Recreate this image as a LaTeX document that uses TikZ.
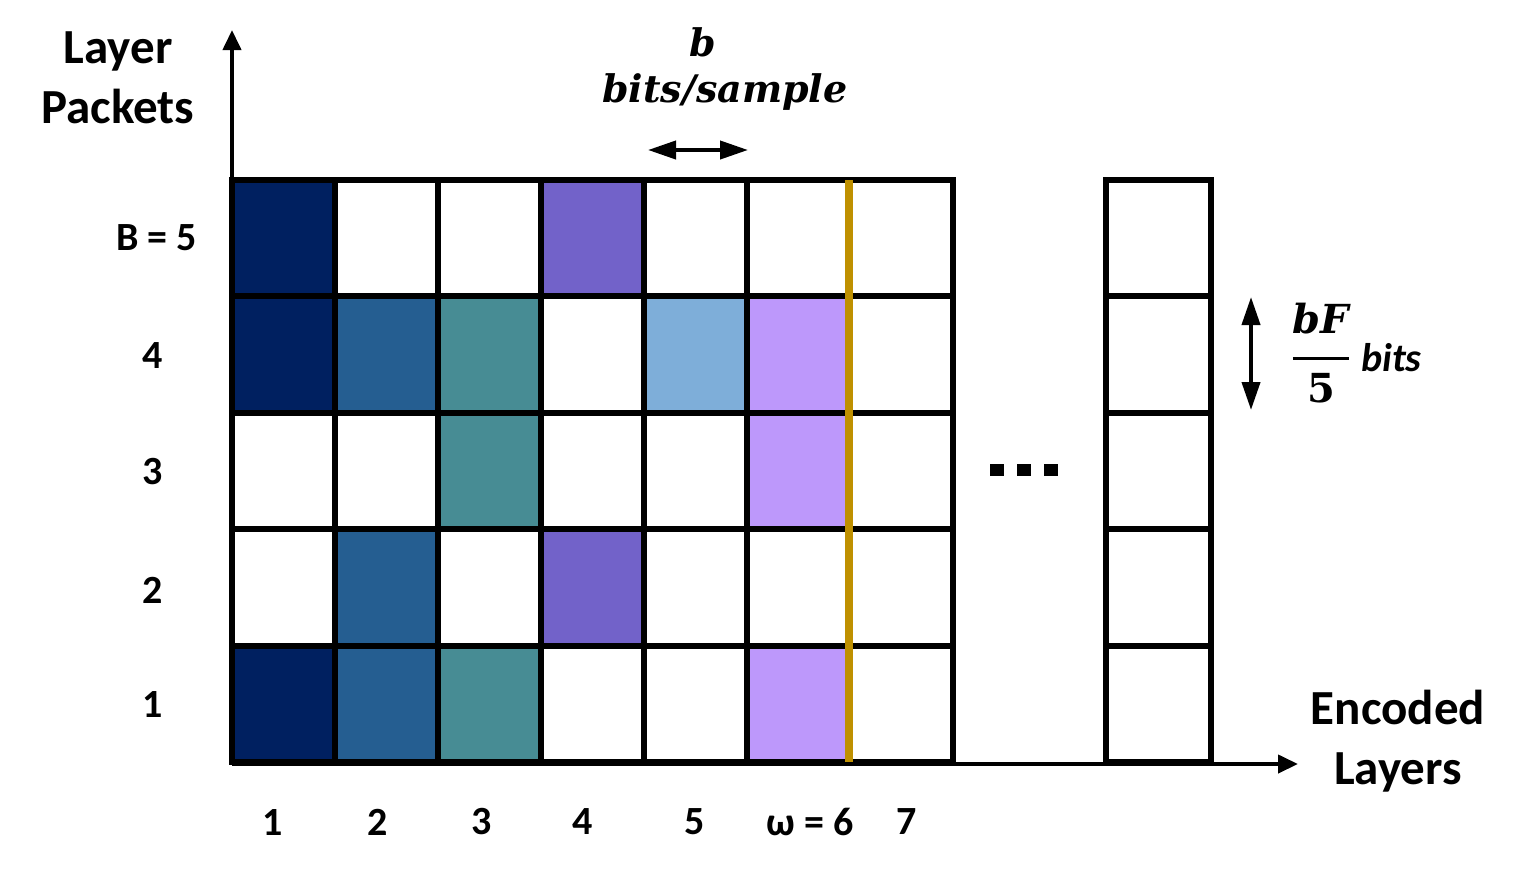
\documentclass[tikz,border=0pt]{standalone}
\usepackage{amsmath}
\usepackage{fontspec}
\setmainfont{Carlito}
\newfontfamily\mserif{DejaVu Serif}
\usetikzlibrary{arrows.meta}
\definecolor{navy}{HTML}{002060}
\definecolor{steel}{HTML}{255E91}
\definecolor{teal}{HTML}{478C94}
\definecolor{violet}{HTML}{7262C9}
\definecolor{sky}{HTML}{7EAED9}
\definecolor{lilac}{HTML}{BD98FB}
\definecolor{gold}{HTML}{BF9000}
\begin{document}
\begin{tikzpicture}[x=0.5pt,y=-0.5pt,
    grid/.style={line width=3pt,line cap=rect},
    axis/.style={line width=2pt,-{Triangle[length=10pt,width=9pt]}},
    dim/.style={line width=2pt,{Triangle[length=14pt,width=9pt]}-{Triangle[length=14pt,width=9pt]}},
    lbl/.style={font=\bfseries\fontsize{20}{24}\selectfont},
    ttl/.style={font=\bfseries\fontsize{24.5}{30}\selectfont,align=center},
    mth/.style={font=\mserif\bfseries\itshape\fontsize{19}{24}\selectfont}]
\useasboundingbox (0,0) rectangle (1518,873);
% filled packets
\foreach \c/\r/\col in {1/5/navy,1/4/navy,1/1/navy,2/4/steel,2/2/steel,2/1/steel,
    3/4/teal,3/3/teal,3/1/teal,4/5/violet,4/2/violet,5/4/sky,6/4/lilac,6/3/lilac,6/1/lilac}
  \fill[\col] ({232+103*(\c-1)},{762-116.4*\r}) rectangle ++(103,116.4);
% grid of layers
\foreach \i in {0,...,7}
  \draw[grid] ({232+103*\i},180) -- ({232+103*\i},762);
\foreach \j in {0,...,5}
  \draw[grid] (232,{180+116.4*\j}) -- (953,{180+116.4*\j});
\foreach \j in {0,...,4}
  \draw[grid] (1106,{180+116.4*\j}) rectangle ++(105,116.4);
\draw[line width=4pt,gold] (849,180) -- (849,762);
\foreach \x in {997,1024,1051}
  \fill ({\x-7},464) rectangle ++(14,12);
% axes
\coordinate (o) at (232,764);
\coordinate (ytop) at (232,30);
\coordinate (xend) at (1298,764);
\draw[axis] (o) -- (ytop);
\draw[axis] (o) -- (xend);
\node[ttl] (lp) at (118,78) {Layer\\Packets};
\node[ttl] (el) at (1398,741) {Encoded\\Layers};
% labels
\node[lbl,anchor=east] (r5) at (204,238) {B = 5};
\foreach \r/\y in {4/356,3/472,2/590,1/704}
  \node[lbl] (r\r) at (153,\y) {\r};
\foreach \c/\x in {1/273,2/378,3/482,4/583,5/695,7/907}
  \node[lbl] (c\c) at (\x,822) {\c};
\node[lbl] (c6) at (810,822) {ω = 6};
% sizes
\node[mth] (bb) at (703,42) {b};
\node[mth] (bps) at (725,92) {bits/sample};
\coordinate (wl) at (648,150);
\coordinate (wr) at (748,150);
\draw[dim] (wl) -- (wr);
\coordinate (ht) at (1251,297);
\coordinate (hb) at (1251,410);
\draw[dim] (ht) -- (hb);
\node[mth,font=\mserif\bfseries\itshape\fontsize{20}{24}\selectfont] (bf) at (1321,358)
  {$\genfrac{}{}{1.5pt}{0}{\hbox{\strut bF}}{\hbox{\strut\upshape 5}}$};
\node[lbl,anchor=west,inner sep=1pt] (bt) at (bf.east) {\itshape bits};
\end{tikzpicture}
\end{document}
